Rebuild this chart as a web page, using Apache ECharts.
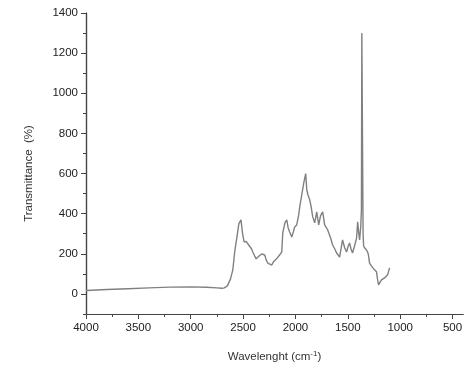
<!DOCTYPE html>
<html><head><meta charset="utf-8">
<script src="https://cdn.jsdelivr.net/npm/echarts@6/dist/echarts.min.js"></script>
<style>html,body{margin:0;padding:0;background:#fff}#c{width:475px;height:370px}</style>
</head><body><div id="c"></div>
<script>
const wavenumbers = [4000,3800,3600,3400,3200,3000,2850,2750,2700,2680,2650,2620,2598,2580,2560,2540,2520,2505,2490,2470,2455,2436,2420,2407,2390,2375,2360,2345,2322,2305,2293,2280,2264,2245,2226,2210,2198,2180,2169,2150,2131,2121,2100,2083,2070,2055,2035,2020,2007,1988,1970,1959,1940,1920,1902,1892,1880,1864,1850,1835,1816,1797,1778,1760,1740,1721,1705,1692,1664,1645,1625,1607,1590,1578,1560,1550,1530,1512,1495,1483,1470,1455,1435,1416,1406,1395,1387,1376,1370,1366,1360,1354,1349,1340,1321,1305,1292,1275,1263,1245,1226,1215,1206,1190,1178,1160,1149,1135,1120,1101];
const transmittance = [17,22,26,30,34,35,33,30,28,30,40,75,120,210,279,350,369,300,259,262,250,244,225,209,190,175,169,190,199,196,194,170,154,150,144,160,169,175,179,195,209,304,355,369,330,309,284,310,334,344,390,434,493,555,600,520,493,470,434,384,354,409,344,390,409,344,330,319,279,244,225,204,195,184,240,269,230,209,240,254,225,204,240,279,359,300,269,340,420,1300,1305,300,240,230,219,200,154,140,134,120,110,70,45,60,70,75,80,85,95,130];
const yMajor = [0,200,400,600,800,1000,1200,1400];
const yMinor = [-100,100,300,500,700,900,1100,1300];
const xMajor = [4000,3500,3000,2500,2000,1500,1000,500];
const xMinor = [3750,3250,2750,2250,1750,1250,750];

const chart = echarts.init(document.getElementById('c'), null, {renderer:'canvas'});
const axisCol = '#444';
const font = 'Liberation Sans, Arial, sans-serif';
const fmt = v => String(v);
const common = {type:'value', splitLine:{show:false}, axisLine:{show:true, onZero:false, lineStyle:{color:axisCol, width:1.2}}};
chart.setOption({
  animation:false,
  grid:{left:86, right:12, top:13, bottom:56},
  xAxis:[
    Object.assign({}, common, {min:400, max:4000, inverse:true, position:'bottom',
      axisTick:{show:true, inside:false, length:5, customValues:xMajor, lineStyle:{color:axisCol}},
      axisLabel:{show:true, customValues:xMajor, formatter:fmt, color:'#222', fontSize:11.5, fontFamily:font, margin:8},
      name:'Wavelenght (cm{s|-1})', nameLocation:'middle', nameGap:36,
      nameTextStyle:{color:'#333', fontSize:11.5, fontFamily:font, rich:{s:{fontSize:8, verticalAlign:'top', padding:[0,0,6,0], fontFamily:font, color:'#333'}}}}),
    Object.assign({}, common, {min:400, max:4000, inverse:true, position:'bottom',
      axisTick:{show:true, length:3, customValues:xMinor, lineStyle:{color:axisCol}},
      axisLabel:{show:false}})
  ],
  yAxis:[
    Object.assign({}, common, {min:-100, max:1400, position:'left',
      axisTick:{show:true, length:5, customValues:yMajor, lineStyle:{color:axisCol}},
      axisLabel:{show:true, customValues:yMajor, formatter:fmt, color:'#222', fontSize:11.5, fontFamily:font, margin:8},
      name:'Transmittance  (%)', nameLocation:'middle', nameGap:51,
      nameTextStyle:{color:'#333', fontSize:11.5, fontFamily:font, padding:[0,0,0,-20]}}),
    Object.assign({}, common, {min:-100, max:1400, position:'left',
      axisTick:{show:true, length:3, customValues:yMinor, lineStyle:{color:axisCol}},
      axisLabel:{show:false}})
  ],
  series:[{type:'line', xAxisIndex:0, yAxisIndex:0, showSymbol:false, smooth:false,
    lineStyle:{color:'#808080', width:1.4},
    data: wavenumbers.map((w,i)=>[w, transmittance[i]])}]
});
</script></body></html>
